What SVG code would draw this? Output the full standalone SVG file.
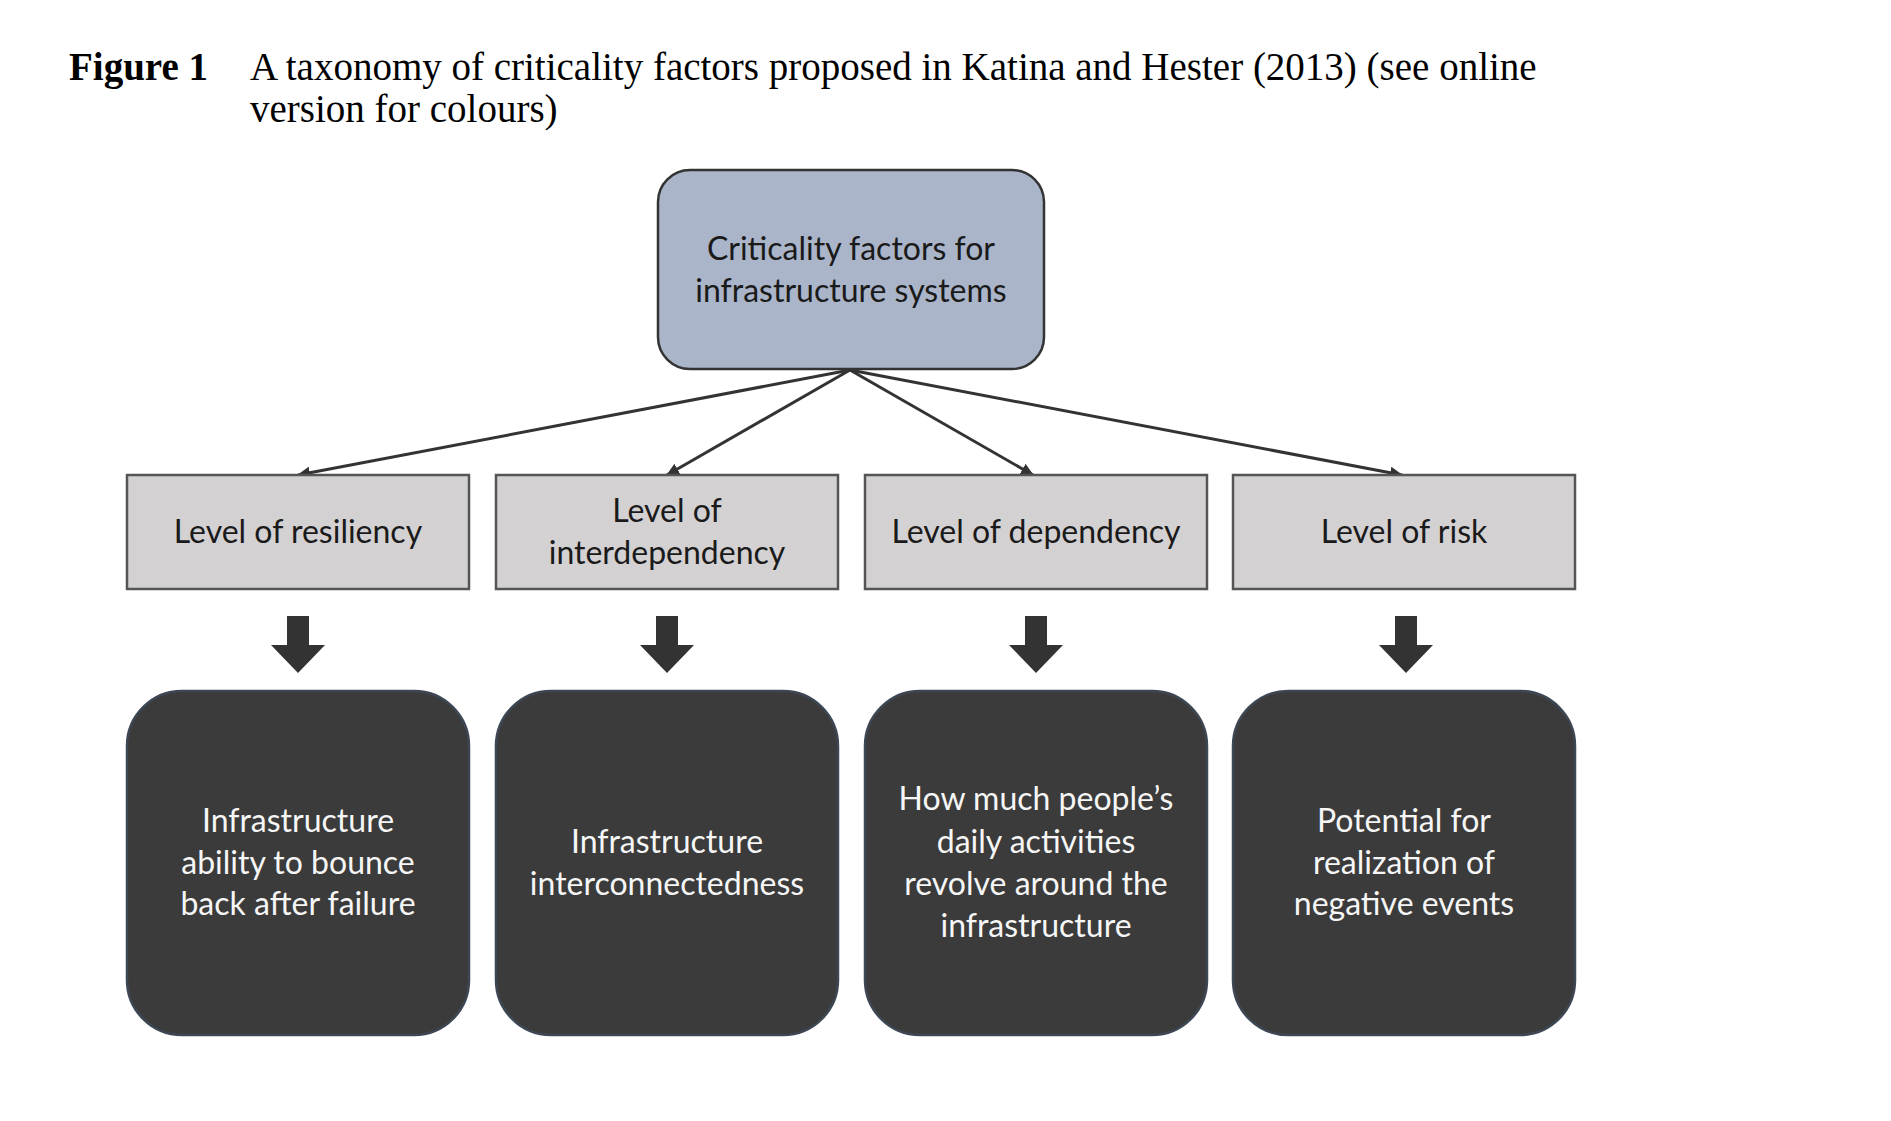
<svg xmlns="http://www.w3.org/2000/svg" width="1891" height="1121" viewBox="0 0 1891 1121">
<style>
.cap{font-family:"Liberation Serif","Times New Roman",serif;font-size:39px;fill:#000}
.capb{font-weight:bold}
.t{font-family:Lato,"Open Sans",sans-serif;font-size:32px;text-anchor:middle}
.dk{fill:#1a1a1a}
.wt{fill:#f6f6f6}
.root{fill:#aab5c9;stroke:#333;stroke-width:2.5}
.lvl{fill:#d3d1d2;stroke:#555;stroke-width:2.5}
.dsc{fill:#3b3b3b;stroke:#3d4753;stroke-width:2.5}
.conn{stroke:#333;stroke-width:3;fill:none}
.blk{fill:#333}
</style>
<defs>
<marker id="ah" markerWidth="14" markerHeight="14" refX="12" refY="7" orient="auto" markerUnits="userSpaceOnUse">
<path d="M0,1 L13,7 L0,13 Z" fill="#333"/>
</marker>
</defs>
<rect width="1891" height="1121" fill="#fff"/>
<g id="caption">
<text class="cap capb" x="69" y="80">Figure 1</text>
<text class="cap" x="250" y="80">A taxonomy of criticality factors proposed in Katina and Hester (2013) (see online</text>
<text class="cap" x="250" y="122">version for colours)</text>
</g>
<g id="connectors">
<line class="conn" x1="850" y1="370" x2="298" y2="475" marker-end="url(#ah)"/>
<line class="conn" x1="850" y1="370" x2="667" y2="475" marker-end="url(#ah)"/>
<line class="conn" x1="850" y1="370" x2="1033" y2="475" marker-end="url(#ah)"/>
<line class="conn" x1="850" y1="370" x2="1402" y2="475" marker-end="url(#ah)"/>
<path class="blk" d="M287,616 H309 V645 H325 L298,673 L271,645 H287 Z"/>
<path class="blk" d="M656,616 H678 V645 H694 L667,673 L640,645 H656 Z"/>
<path class="blk" d="M1025,616 H1047 V645 H1063 L1036,673 L1009,645 H1025 Z"/>
<path class="blk" d="M1395,616 H1417 V645 H1433 L1406,673 L1379,645 H1395 Z"/>
</g>
<g id="root">
<rect class="root" x="658" y="170" width="386" height="199" rx="32"/>
<text class="t dk" x="851" y="260">Criticality factors for</text>
<text class="t dk" x="851" y="302">infrastructure systems</text>
</g>
<g id="level-resiliency">
<rect class="lvl" x="127" y="475" width="342" height="114"/>
<text class="t dk" x="298" y="543">Level of resiliency</text>
</g>
<g id="level-interdependency">
<rect class="lvl" x="496" y="475" width="342" height="114"/>
<text class="t dk" x="667" y="522">Level of</text>
<text class="t dk" x="667" y="564">interdependency</text>
</g>
<g id="level-dependency">
<rect class="lvl" x="865" y="475" width="342" height="114"/>
<text class="t dk" x="1036" y="543">Level of dependency</text>
</g>
<g id="level-risk">
<rect class="lvl" x="1233" y="475" width="342" height="114"/>
<text class="t dk" x="1404" y="543">Level of risk</text>
</g>
<g id="desc-resiliency">
<rect class="dsc" x="127" y="691" width="342" height="344" rx="55"/>
<text class="t wt" x="298" y="832">Infrastructure</text>
<text class="t wt" x="298" y="874">ability to bounce</text>
<text class="t wt" x="298" y="915">back after failure</text>
</g>
<g id="desc-interdependency">
<rect class="dsc" x="496" y="691" width="342" height="344" rx="55"/>
<text class="t wt" x="667" y="853">Infrastructure</text>
<text class="t wt" x="667" y="895">interconnectedness</text>
</g>
<g id="desc-dependency">
<rect class="dsc" x="865" y="691" width="342" height="344" rx="55"/>
<text class="t wt" x="1036" y="810">How much people’s</text>
<text class="t wt" x="1036" y="853">daily activities</text>
<text class="t wt" x="1036" y="895">revolve around the</text>
<text class="t wt" x="1036" y="937">infrastructure</text>
</g>
<g id="desc-risk">
<rect class="dsc" x="1233" y="691" width="342" height="344" rx="55"/>
<text class="t wt" x="1404" y="832">Potential for</text>
<text class="t wt" x="1404" y="874">realization of</text>
<text class="t wt" x="1404" y="915">negative events</text>
</g>
</svg>
